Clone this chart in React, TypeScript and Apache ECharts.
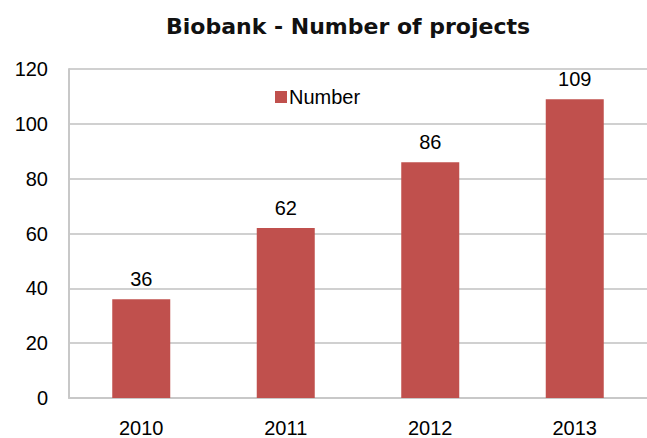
import React, { useEffect, useRef } from "react";
import * as echarts from "echarts";

const categories = ["2010", "2011", "2012", "2013"];
const values = [36, 62, 86, 109];
const seriesName = "Number";
const titleText = "Biobank - Number of projects";

export default function App() {
  const ref = useRef<HTMLDivElement>(null);
  useEffect(() => {
    if (!ref.current) return;
    const chart = echarts.init(ref.current, null, { renderer: "svg" });
    const font = "Liberation Sans, Arial, sans-serif";
    chart.setOption({
      animation: false,
      backgroundColor: "#ffffff",
      title: {
        text: titleText,
        left: 343,
        textAlign: "center",
        top: 10,
        textStyle: { fontFamily: "DejaVu Sans", fontSize: 22, fontWeight: "bold", color: "#111" },
      },
      legend: {
        data: [seriesName],
        left: 270,
        top: 82,
        icon: "rect",
        itemWidth: 12,
        itemHeight: 12,
        itemGap: 4,
        textStyle: { fontFamily: font, fontSize: 20, color: "#000", padding: [0, 0, 0, -3] },
      },
      grid: { left: 69, top: 69, width: 580, height: 330, containLabel: false },
      xAxis: {
        type: "category",
        data: categories,
        axisLine: { lineStyle: { color: "#c8c8c8", width: 2 } },
        axisTick: { show: false },
        axisLabel: { fontFamily: font, fontSize: 20, color: "#000", margin: 20 },
      },
      yAxis: {
        type: "value",
        min: 0,
        max: 120,
        interval: 20,
        axisLine: { show: true, lineStyle: { color: "#c8c8c8", width: 2 } },
        axisTick: { show: false },
        splitLine: { lineStyle: { color: "#d0d0d0", width: 2 } },
        axisLabel: { fontFamily: font, fontSize: 20, color: "#000", margin: 21 },
      },
      series: [
        {
          name: seriesName,
          type: "bar",
          data: values,
          barWidth: 58,
          itemStyle: { color: "#c0504d" },
          label: {
            show: true,
            position: "top",
            distance: 10,
            fontFamily: font,
            fontSize: 20,
            color: "#000",
          },
        },
      ],
    });
    return () => chart.dispose();
  }, []);
  return (
    <div
      ref={ref}
      style={{ position: "fixed", left: 0, top: 0, width: 647, height: 438 }}
    />
  );
}
